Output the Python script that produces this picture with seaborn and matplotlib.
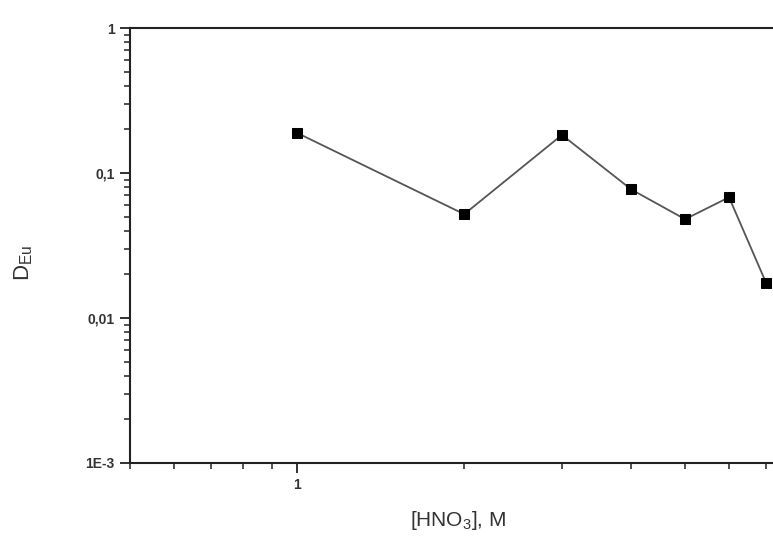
import matplotlib
matplotlib.use("Agg")
import matplotlib.pyplot as plt
import seaborn as sns
import pandas as pd
from matplotlib.ticker import FuncFormatter, LogLocator, NullFormatter

# data
hno3 = [1, 2, 3, 4, 5, 6, 7]
d_eu = [0.189, 0.052, 0.183, 0.077, 0.048, 0.068, 0.0174]

df = pd.DataFrame({"hno3": hno3, "d_eu": d_eu})

sns.set_style("white")
plt.rcParams["font.family"] = ["Liberation Sans", "DejaVu Sans"]
plt.rcParams["mathtext.default"] = "regular"

fig = plt.figure(figsize=(7.73, 5.37), dpi=100)
ax = fig.add_axes([130 / 773, 74 / 537, 643 / 773, 435 / 537])

sns.lineplot(data=df, x="hno3", y="d_eu", ax=ax, color="#555555", linewidth=1.3,
             marker="s", markersize=7, markerfacecolor="black", markeredgecolor="black")

ax.set_xscale("log")
ax.set_yscale("log")
ax.set_xlim(0.5, 7.2)
ax.set_ylim(1e-3, 1)

ax.xaxis.set_major_locator(LogLocator(base=10))
ax.xaxis.set_minor_locator(LogLocator(base=10, subs=range(2, 10)))
ax.xaxis.set_major_formatter(FuncFormatter(lambda v, p: "1" if abs(v - 1) < 1e-9 else ""))
ax.xaxis.set_minor_formatter(NullFormatter())

ylabels = {1: "1", 0.1: "0,1", 0.01: "0,01", 0.001: "1E-3"}

def fmt_y(v, p):
    for k, s in ylabels.items():
        if abs(v - k) < k * 1e-6:
            return s
    return ""

ax.yaxis.set_major_locator(LogLocator(base=10))
ax.yaxis.set_minor_locator(LogLocator(base=10, subs=range(2, 10)))
ax.yaxis.set_major_formatter(FuncFormatter(fmt_y))
ax.yaxis.set_minor_formatter(NullFormatter())

for side in ["left", "bottom", "top"]:
    ax.spines[side].set_color("#222222")
    ax.spines[side].set_linewidth(1.5)
ax.spines["right"].set_visible(False)

ax.tick_params(which="major", direction="out", length=7, width=1.3, color="#222222",
               labelsize=10, pad=4, left=True, bottom=True, labelcolor="#333333")
ax.tick_params(which="minor", direction="out", length=4, width=1.1, color="#222222",
               left=True, bottom=True)
for lab in ax.get_xticklabels() + ax.get_yticklabels():
    lab.set_fontweight("bold")

ax.set_xlabel("[HNO$_3$], M", fontsize=15, color="#333333")
ax.set_ylabel("D$_{Eu}$", fontsize=16, color="#333333")
ax.xaxis.set_label_coords(0.51, -0.105)
ax.yaxis.set_label_coords(-0.148, 0.46)

fig.savefig("out.png", dpi=100)
